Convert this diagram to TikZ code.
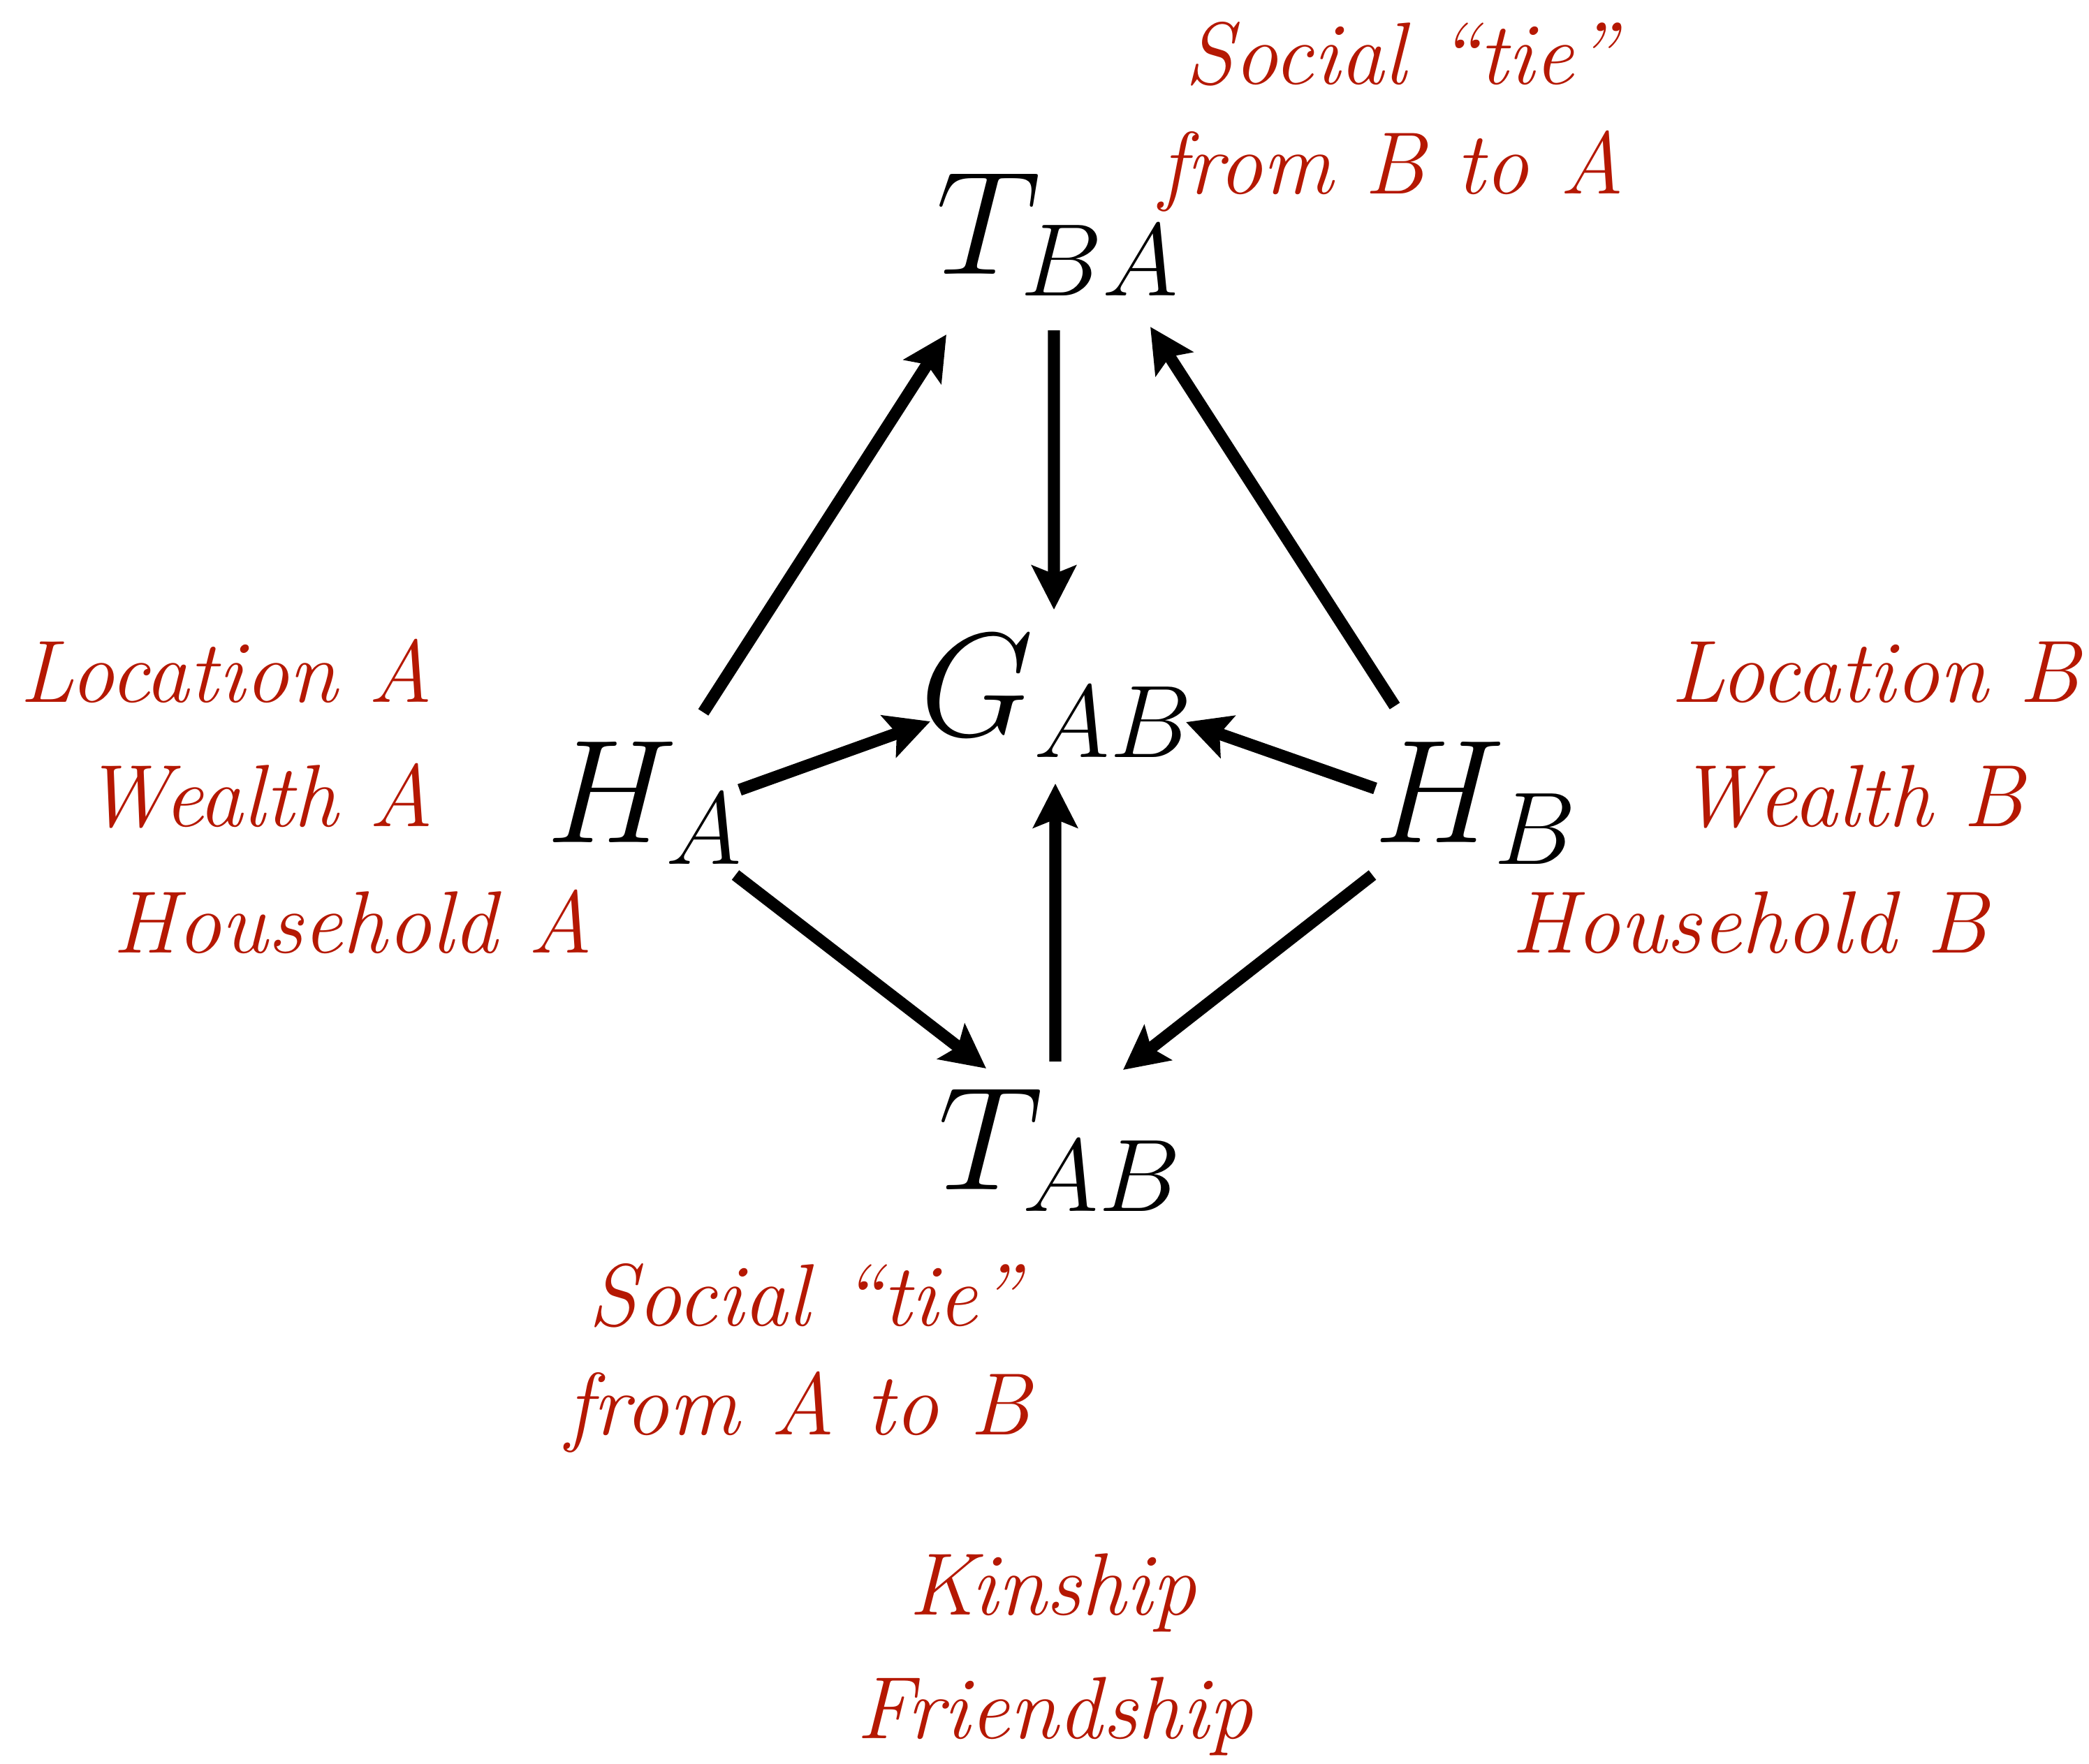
\RequirePackage{fix-cm}
\documentclass[tikz,border=0pt]{standalone}
\usepackage{xcolor}
\usetikzlibrary{arrows.meta}
\definecolor{myred}{RGB}{181,24,2}

\begin{document}
\begin{tikzpicture}[x=1cm,y=-1cm,
  var/.style={inner sep=0pt,anchor=base,font=\fontsize{60}{72}\selectfont},
  lab/.style={inner sep=0pt,anchor=base,color=myred,font=\fontsize{36}{43}\selectfont\itshape},
  arr/.style={-{Stealth[length=6.3mm,width=6.3mm,inset=1.2mm]},line width=4.9pt}]
\useasboundingbox (0,0) rectangle (29.91,25.25);

% variables
\node[var] (tba) at (15.15,3.92) {$T_{BA}$};
\node[var] (gab) at (15.13,10.53) {$G_{AB}$};
\node[var] (ha) at (9.23,12.06) {$H_A$};
\node[var] (hb) at (21.13,12.06) {$H_B$};
\node[var] (tab) at (15.18,17.03) {$T_{AB}$};

% labels
\node[lab] (tieBA1) at (20.05,1.20) {Social ``tie''};
\node[lab] (tieBA2) at (19.93,2.77) {from B to A};
\node[lab] (locA) at (3.24,10.05) {Location A};
\node[lab] (wealthA) at (3.70,11.83) {Wealth A};
\node[lab] (hhA) at (5.05,13.64) {Household A};
\node[lab] (locB) at (26.85,10.05) {Location B};
\node[lab] (wealthB) at (26.50,11.83) {Wealth B};
\node[lab] (hhB) at (25.05,13.64) {Household B};
\node[lab] (tieAB1) at (11.51,18.98) {Social ``tie''};
\node[lab] (tieAB2) at (11.43,20.54) {from A to B};
\node[lab] (kin) at (15.07,23.12) {Kinship};
\node[lab] (friend) at (15.10,24.89) {Friendship};

% arrows
\draw[arr] ([shift={(0.84,-1.86)}]ha.base) -- ([shift={(-1.60,0.87)}]tba.base);
\draw[arr] ([shift={(-1.16,-1.95)}]hb.base) -- ([shift={(1.32,0.76)}]tba.base);
\draw[arr] ([shift={(-0.06,0.81)}]tba.base) -- ([shift={(-0.04,-1.80)}]gab.base);
\draw[arr] ([shift={(1.36,-0.75)}]ha.base) -- ([shift={(-1.81,-0.20)}]gab.base);
\draw[arr] ([shift={(-1.44,-0.77)}]hb.base) -- ([shift={(1.85,-0.19)}]gab.base);
\draw[arr] ([shift={(-0.07,-1.83)}]tab.base) -- ([shift={(-0.02,0.69)}]gab.base);
\draw[arr] ([shift={(1.30,0.47)}]ha.base) -- ([shift={(-1.06,-1.73)}]tab.base);
\draw[arr] ([shift={(-1.48,0.47)}]hb.base) -- ([shift={(0.90,-1.71)}]tab.base);
\end{tikzpicture}
\end{document}
